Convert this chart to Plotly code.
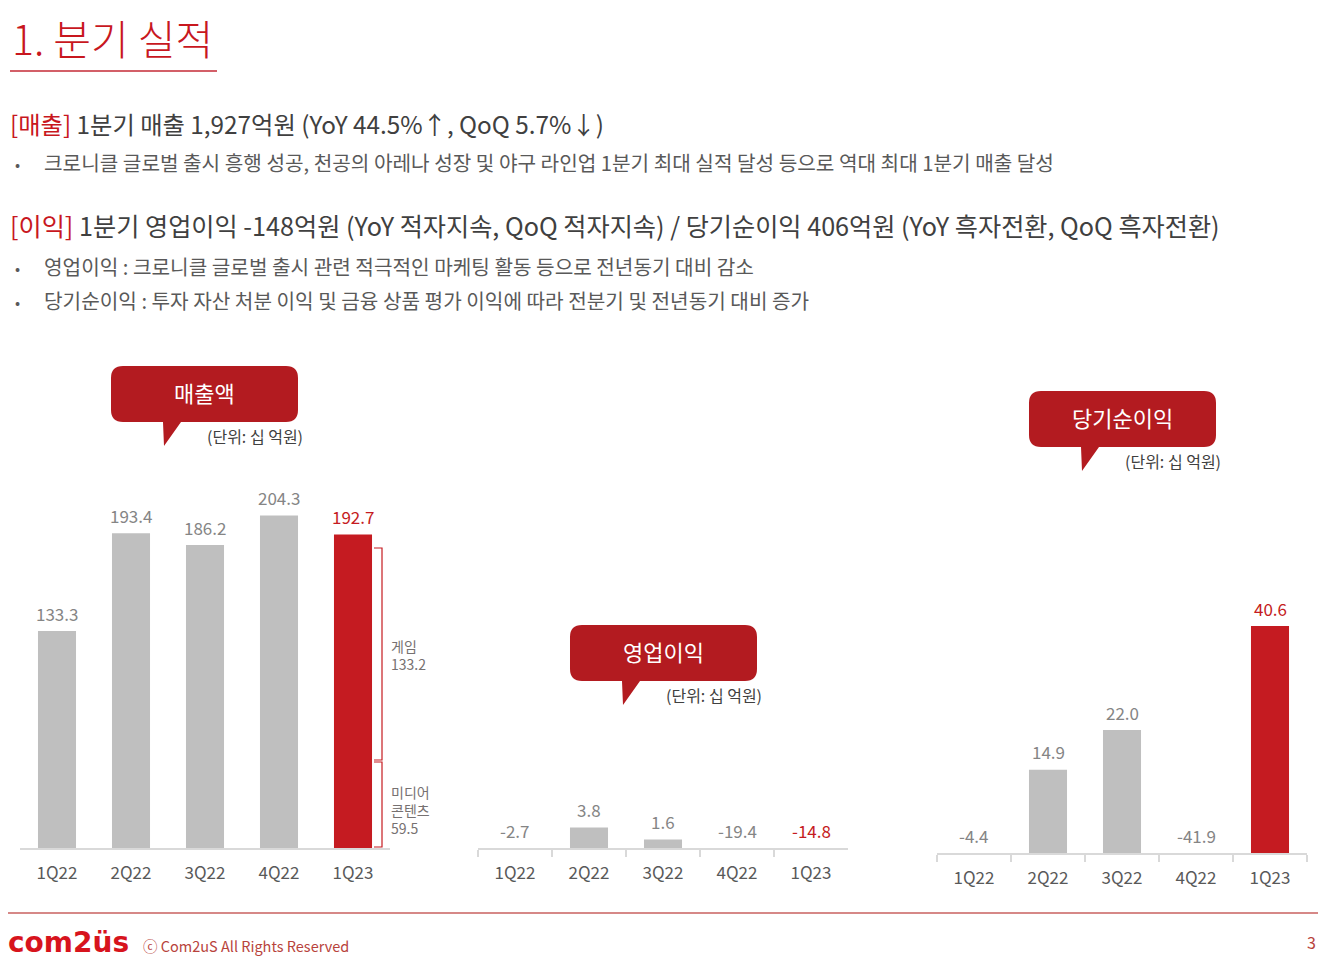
import plotly.graph_objects as go

W, H = 1335, 972
OFF = 8  # 기본 body 여백
FW, FH = W - 2 * OFF, H - 2 * OFF

# --- data -------------------------------------------------------------
quarters = ["1Q22", "2Q22", "3Q22", "4Q22", "1Q23"]
revenue = [133.3, 193.4, 186.2, 204.3, 192.7]
op_profit = [-2.7, 3.8, 1.6, -19.4, -14.8]
net_income = [-4.4, 14.9, 22.0, -41.9, 40.6]
game_rev = 133.2
media_rev = 59.5

GRAY = "#bfbfbf"
RED = "#c51b21"
BUBBLE = "#b31b20"
FONT = "Noto Sans CJK KR"


def px(x):
    return (x - OFF) / FW


def py(y):
    return 1 - (y - OFF) / FH


def bar_colors(n):
    return [GRAY] * (n - 1) + [RED]


fig = go.Figure()

# 세 개의 막대 차트 (x, x2, x3)
charts = [
    ("x", "y", revenue),
    ("x2", "y2", op_profit),
    ("x3", "y3", net_income),
]
for xa, ya, vals in charts:
    fig.add_trace(go.Bar(
        x=quarters, y=vals, xaxis=xa, yaxis=ya,
        marker=dict(color=bar_colors(len(vals)), line=dict(width=0)),
        hoverinfo="x+y",
    ))

# 축 위치 (픽셀 기준): left, right, bottom, px per unit, top
axes_px = {
    "1": (20, 390, 848, 1.627, 470),
    "2": (478, 848, 848, 5.39, 690),
    "3": (937, 1307, 853, 5.59, 590),
}

layout_axes = {}
for k, (l, r, b, scale, t) in axes_px.items():
    name = "" if k == "1" else k
    boundary_ticks = k != "1"
    layout_axes["xaxis" + name] = dict(
        domain=[px(l), px(r)],
        anchor="y" + name,
        type="category",
        range=[-0.5, 4.5],
        showline=True, linecolor="#d9d9d9", linewidth=2,
        showgrid=False, zeroline=False,
        ticks="outside" if boundary_ticks else "",
        tickson="boundaries" if boundary_ticks else None,
        ticklen=7, tickcolor="#d9d9d9", tickwidth=2,
        ticklabelstandoff=9,
        tickfont=dict(family=FONT, size=17, color="#595959"),
        fixedrange=True,
    )
    layout_axes["yaxis" + name] = dict(
        domain=[py(b), py(t)],
        anchor="x" + name,
        range=[0, (b - t) / scale],
        visible=False, showgrid=False, zeroline=False,
        fixedrange=True,
    )

annotations = []
shapes = []

# 값 라벨
for xa, ya, vals in charts:
    for i, (q, v) in enumerate(zip(quarters, vals)):
        annotations.append(dict(
            x=q, y=max(v, 0), xref=xa, yref=ya,
            text=f"{v:.1f}", showarrow=False,
            yanchor="middle", yshift=18,
            font=dict(family=FONT, size=17,
                      color=RED if i == len(vals) - 1 else "#858585"),
        ))


# 말풍선
def bubble_path(x0, y0, x1, y1, tx, r=12):
    pts = [
        ("M", [(x0 + r, y0)]),
        ("L", [(x1 - r, y0)]),
        ("Q", [(x1, y0), (x1, y0 + r)]),
        ("L", [(x1, y1 - r)]),
        ("Q", [(x1, y1), (x1 - r, y1)]),
        ("L", [(tx + 18, y1)]),
        ("L", [(tx + 1, y1 + 24)]),
        ("L", [(tx, y1)]),
        ("L", [(x0 + r, y1)]),
        ("Q", [(x0, y1), (x0, y1 - r)]),
        ("L", [(x0, y0 + r)]),
        ("Q", [(x0, y0), (x0 + r, y0)]),
    ]
    out = ""
    for cmd, coords in pts:
        out += cmd + " " + " ".join(f"{px(a):.5f},{py(b):.5f}" for a, b in coords) + " "
    return out + "Z"


bubbles = [
    ("매출액", 111, 366, 298, 422),
    ("영업이익", 570, 625, 757, 681),
    ("당기순이익", 1029, 391, 1216, 447),
]
for label, x0, y0, x1, y1 in bubbles:
    shapes.append(dict(type="path", xref="paper", yref="paper",
                       path=bubble_path(x0, y0, x1, y1, x0 + 52),
                       fillcolor=BUBBLE, line=dict(width=0)))
    annotations.append(dict(
        x=px((x0 + x1) / 2), y=py((y0 + y1) / 2 - 2), xref="paper", yref="paper",
        text=label, showarrow=False, xanchor="center", yanchor="middle",
        font=dict(family=FONT, size=22, color="white"),
    ))
    annotations.append(dict(
        x=px(x1 + 7), y=py(y1 + 14), xref="paper", yref="paper",
        text="(단위: 십 억원)", showarrow=False, xanchor="right", yanchor="middle",
        font=dict(family=FONT, size=16, color="#404040"),
    ))

# 1Q23 매출 구성 괄호
bracket = dict(color=RED, width=1.2)
for top, bot in [(548, 760), (762, 847)]:
    shapes.append(dict(type="path", xref="paper", yref="paper",
                       path=(f"M {px(374):.5f},{py(top):.5f} L {px(382):.5f},{py(top):.5f} "
                             f"L {px(382):.5f},{py(bot):.5f} L {px(374):.5f},{py(bot):.5f}"),
                       line=bracket))

seg_font = dict(family=FONT, size=14, color="#767171")
annotations.append(dict(
    x=px(389), y=py(655), xref="paper", yref="paper", showarrow=False,
    xanchor="left", yanchor="middle", align="left",
    text=f"게임<br>{game_rev:.1f}", font=seg_font,
))
annotations.append(dict(
    x=px(389), y=py(810), xref="paper", yref="paper", showarrow=False,
    xanchor="left", yanchor="middle", align="left",
    text=f"미디어<br>콘텐츠<br>{media_rev:.1f}", font=seg_font,
))

# 상단 텍스트
TXT = "#404040"
SUB = "#595959"
top_texts = [
    (10, 37, "1. 분기 실적", 41, "#c8171e", 300),
    (8, 123, "<span style='color:#c8171e'>[매출]</span> 1분기 매출 1,927억원 (YoY 44.5%↑, QoQ 5.7%↓)", 24.3, TXT, 400),
    (42, 162, "크로니클 글로벌 출시 흥행 성공, 천공의 아레나 성장 및 야구 라인업 1분기 최대 실적 달성 등으로 역대 최대 1분기 매출 달성", 20.2, SUB, 400),
    (8, 225, "<span style='color:#c8171e'>[이익]</span> 1분기 영업이익 -148억원 (YoY 적자지속, QoQ 적자지속) / 당기순이익 406억원 (YoY 흑자전환, QoQ 흑자전환)", 25.2, TXT, 400),
    (42, 266, "영업이익 : 크로니클 글로벌 출시 관련 적극적인 마케팅 활동 등으로 전년동기 대비 감소", 20.2, SUB, 400),
    (42, 300, "당기순이익 : 투자 자산 처분 이익 및 금융 상품 평가 이익에 따라 전분기 및 전년동기 대비 증가", 20.2, SUB, 400),
]
for x, y, text, size, color, weight in top_texts:
    annotations.append(dict(
        x=px(x), y=py(y), xref="paper", yref="paper", showarrow=False,
        xanchor="left", yanchor="middle", text=text,
        font=dict(family=FONT, size=size, color=color, weight=weight),
    ))
for y in [163, 267, 301]:
    annotations.append(dict(
        x=px(13), y=py(y), xref="paper", yref="paper", showarrow=False,
        xanchor="left", yanchor="middle", text="•",
        font=dict(family=FONT, size=15, color=SUB),
    ))

shapes.append(dict(type="line", xref="paper", yref="paper",
                   x0=px(10), x1=px(217), y0=py(71), y1=py(71),
                   line=dict(color="#d35f68", width=2)))

# 하단
shapes.append(dict(type="line", xref="paper", yref="paper",
                   x0=px(8), x1=px(1318), y0=py(913), y1=py(913),
                   line=dict(color="#c9605f", width=1.5)))
annotations.append(dict(
    x=px(6), y=py(942), xref="paper", yref="paper", showarrow=False,
    xanchor="left", yanchor="middle", text="<b>com2üs</b>",
    font=dict(family="DejaVu Sans", size=28, color="#d7141d"),
))
annotations.append(dict(
    x=px(141), y=py(945), xref="paper", yref="paper", showarrow=False,
    xanchor="left", yanchor="middle", text="ⓒ Com2uS All Rights Reserved",
    font=dict(family=FONT, size=14.5, color="#b8433c"),
))
annotations.append(dict(
    x=px(1318), y=py(942), xref="paper", yref="paper", showarrow=False,
    xanchor="right", yanchor="middle", text="3",
    font=dict(family=FONT, size=16, color="#b8433c"),
))

fig.update_layout(
    width=FW, height=FH, autosize=False,
    margin=dict(l=0, r=0, t=0, b=0),
    paper_bgcolor="white", plot_bgcolor="white",
    showlegend=False,
    bargap=0.486,
    annotations=annotations,
    shapes=shapes,
    **layout_axes,
)

fig.write_html("out.html")
